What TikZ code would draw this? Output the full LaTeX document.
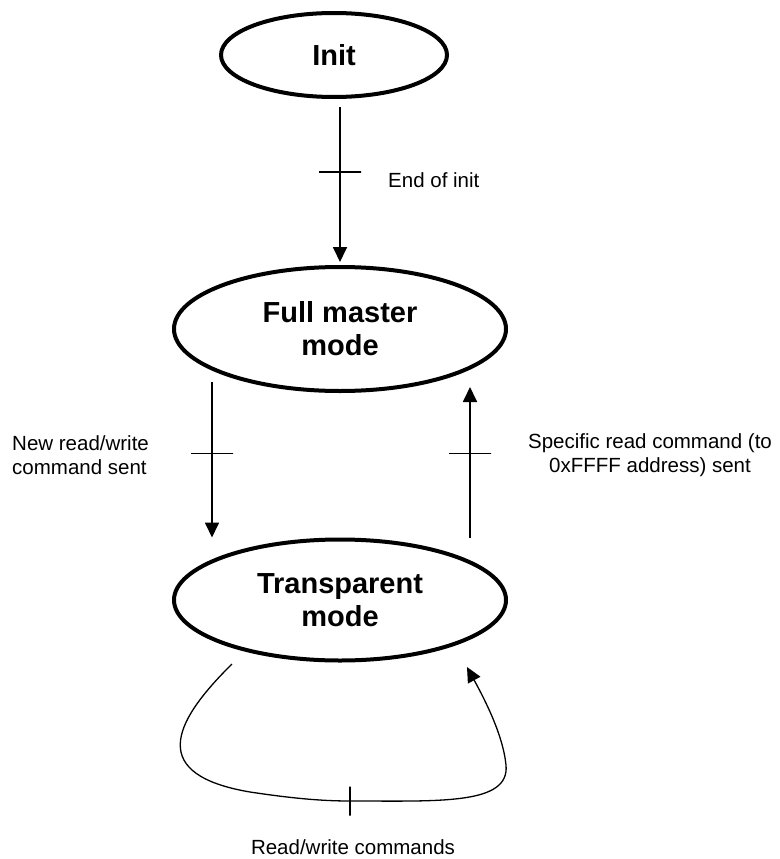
\documentclass[tikz,border=0pt]{standalone}
\usepackage{fontspec}
\setmainfont{Liberation Sans}
\usetikzlibrary{positioning, arrows.meta, shapes.geometric}

\begin{document}
\begin{tikzpicture}[
        x=1pt, y=-1pt, % pixel units, y downwards
        state/.style={ellipse, draw=black, line width=4pt, inner sep=0pt, align=center,
                      font=\fontsize{29}{33}\selectfont\bfseries},
        flow/.style={-{Triangle[width=14pt,length=15pt]}, line width=1.8pt},
        crossbar/.style={draw, line width=1.4pt, inner sep=0pt, minimum height=0pt, minimum width=42pt},
        vbar/.style={draw, line width=1.4pt, inner sep=0pt, minimum width=0pt, minimum height=29pt},
        note/.style={inner sep=0pt, font=\fontsize{20.5}{24}\selectfont}
    ]
    \useasboundingbox (0,0) rectangle (779,859);

    % states
    \node[state, minimum width=226pt, minimum height=84pt] (init) at (334,55) {Init};
    \node[state, minimum width=332pt, minimum height=124pt] (full) at (340,329) {Full master\\mode};
    \node[state, minimum width=332pt, minimum height=121pt] (trans) at (340,600) {Transparent\\mode};

    % transitions
    \draw[flow] ([yshift=-8pt]init.south -| full.north) -- node[crossbar, pos=.42] (endbar) {} ([yshift=3pt]full.north);
    \draw[flow] ([xshift=-128pt, yshift=11pt]full.south) -- node[crossbar, pos=.46] (newbar) {} ([xshift=-128pt]trans.north);
    \draw[flow] ([xshift=130pt]trans.north) -- node[crossbar, pos=.56] (specbar) {} ([xshift=130pt, yshift=6pt]full.south);

    % self loop on transparent mode
    \coordinate (rwout) at (232,664);
    \coordinate (rwin) at (467,667);
    \draw[flow, line width=1.3pt] (rwout) .. controls (170,725) and (150,775) .. (250,792)
        .. controls (290,798) and (320,801) .. (350,801) node[vbar] (rwbar) {}
        .. controls (440,801) and (510,805) .. (506,765)
        .. controls (503,735) and (485,700) .. (rwin);

    % labels
    \node[note, anchor=west] (endlbl) at (388,180) {End of init};
    \node[note, anchor=west, align=left] (newlbl) at (12,455) {New read/write\\command sent};
    \node[note, align=center] (speclbl) at (650,455) {Specific read command (to\\0xFFFF address) sent};
    \node[note] (rwlbl) at (353,847) {Read/write commands};
\end{tikzpicture}
\end{document}
